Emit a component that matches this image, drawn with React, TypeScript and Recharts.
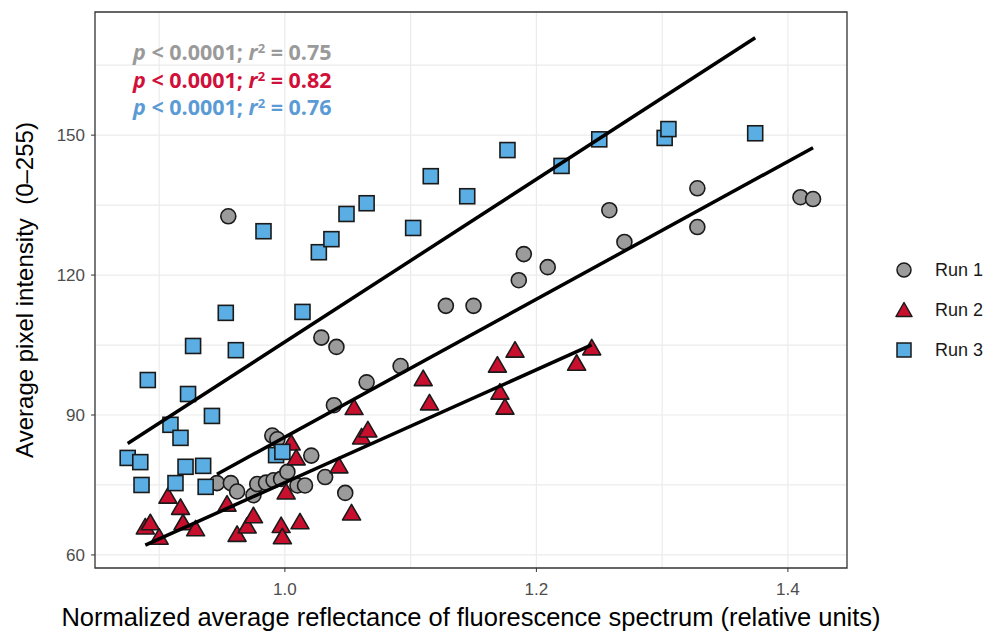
import React from 'react';
import { ScatterChart, Scatter, XAxis, YAxis, CartesianGrid, ReferenceArea } from 'recharts';

type Pt = { x: number; y: number };

// Run 1 (grey circles)
const run1: Pt[] = [
  { x: 0.946, y: 75.4 }, { x: 0.957, y: 75.4 }, { x: 0.962, y: 73.6 }, { x: 0.955, y: 132.6 },
  { x: 0.975, y: 72.8 }, { x: 0.978, y: 75.2 }, { x: 0.985, y: 75.5 }, { x: 0.990, y: 85.6 },
  { x: 0.994, y: 84.8 }, { x: 0.991, y: 76.0 }, { x: 0.997, y: 76.3 }, { x: 1.002, y: 77.8 },
  { x: 1.010, y: 74.9 }, { x: 1.016, y: 74.9 }, { x: 1.021, y: 81.3 }, { x: 1.029, y: 106.6 },
  { x: 1.032, y: 76.7 }, { x: 1.039, y: 92.1 }, { x: 1.041, y: 104.6 }, { x: 1.048, y: 73.3 },
  { x: 1.065, y: 97.0 }, { x: 1.092, y: 100.5 }, { x: 1.128, y: 113.4 }, { x: 1.150, y: 113.4 },
  { x: 1.186, y: 118.9 }, { x: 1.190, y: 124.5 }, { x: 1.209, y: 121.7 }, { x: 1.258, y: 133.9 },
  { x: 1.270, y: 127.1 }, { x: 1.328, y: 138.6 }, { x: 1.328, y: 130.3 }, { x: 1.410, y: 136.7 },
  { x: 1.420, y: 136.3 },
];

// Run 2 (red triangles)
const run2: Pt[] = [
  { x: 0.889, y: 66.0 }, { x: 0.893, y: 66.9 }, { x: 0.900, y: 63.8 }, { x: 0.907, y: 72.6 },
  { x: 0.917, y: 70.2 }, { x: 0.919, y: 66.9 }, { x: 0.929, y: 65.6 }, { x: 0.954, y: 70.9 },
  { x: 0.962, y: 64.4 }, { x: 0.970, y: 66.2 }, { x: 0.975, y: 68.4 }, { x: 0.997, y: 66.3 },
  { x: 0.998, y: 63.9 }, { x: 1.001, y: 73.5 }, { x: 1.005, y: 84.0 }, { x: 1.009, y: 80.8 },
  { x: 1.012, y: 67.1 }, { x: 1.043, y: 79.1 }, { x: 1.053, y: 69.0 }, { x: 1.055, y: 91.6 },
  { x: 1.061, y: 85.3 }, { x: 1.066, y: 86.8 }, { x: 1.110, y: 97.8 }, { x: 1.115, y: 92.6 },
  { x: 1.169, y: 100.7 }, { x: 1.171, y: 94.9 }, { x: 1.175, y: 91.7 }, { x: 1.183, y: 103.9 },
  { x: 1.232, y: 101.1 }, { x: 1.244, y: 104.4 },
];

// Run 3 (blue squares)
const run3: Pt[] = [
  { x: 0.875, y: 80.8 }, { x: 0.885, y: 79.9 }, { x: 0.891, y: 97.5 }, { x: 0.886, y: 75.0 },
  { x: 0.909, y: 87.9 }, { x: 0.917, y: 85.1 }, { x: 0.913, y: 75.4 }, { x: 0.921, y: 78.9 },
  { x: 0.923, y: 94.5 }, { x: 0.927, y: 104.8 }, { x: 0.935, y: 79.1 }, { x: 0.937, y: 74.6 },
  { x: 0.942, y: 89.8 }, { x: 0.953, y: 111.9 }, { x: 0.961, y: 103.9 }, { x: 0.983, y: 129.4 },
  { x: 0.993, y: 81.4 }, { x: 0.998, y: 82.1 }, { x: 1.014, y: 112.1 }, { x: 1.027, y: 124.9 },
  { x: 1.037, y: 127.7 }, { x: 1.049, y: 133.1 }, { x: 1.065, y: 135.4 }, { x: 1.102, y: 130.1 },
  { x: 1.116, y: 141.2 }, { x: 1.145, y: 136.9 }, { x: 1.177, y: 146.8 }, { x: 1.220, y: 143.4 },
  { x: 1.250, y: 149.1 }, { x: 1.302, y: 149.4 }, { x: 1.305, y: 151.3 }, { x: 1.374, y: 150.4 },
];

const xTicks = [1.0, 1.2, 1.4];
const yTicks = [60, 90, 120, 150];
const xGrid = [0.9, 1.0, 1.1, 1.2, 1.3, 1.4];
const yGrid = [60, 75, 90, 105, 120, 135, 150, 165];

const runNames = ['Run 1', 'Run 2', 'Run 3'];
const r2Values = ['0.75', '0.82', '0.76'];

const X_DOMAIN: [number, number] = [0.849, 1.447];
const Y_DOMAIN: [number, number] = [57.2, 176.4];

const GREY = '#9b9b9b';
const RED = '#c8102e';
const BLUE = '#5aaee3';
const statColors = ['#9a9a9a', '#d0103a', '#5b9bd5'];
const FONT = 'Liberation Sans, Arial, sans-serif';

// least-squares line spanning the x range of a run
const fitLine = (pts: Pt[]): Pt[] => {
  const n = pts.length;
  const mx = pts.reduce((s, p) => s + p.x, 0) / n;
  const my = pts.reduce((s, p) => s + p.y, 0) / n;
  let sxy = 0;
  let sxx = 0;
  pts.forEach((p) => {
    sxy += (p.x - mx) * (p.y - my);
    sxx += (p.x - mx) * (p.x - mx);
  });
  const b = sxy / sxx;
  const a = my - b * mx;
  const xs = pts.map((p) => p.x);
  const lo = Math.min(...xs);
  const hi = Math.max(...xs);
  return [{ x: lo, y: a + b * lo }, { x: hi, y: a + b * hi }];
};

const CircleMark = (p: any) => (
  <circle cx={p.cx} cy={p.cy} r={7.5} fill={GREY} stroke="#1a1a1a" strokeWidth={1.6} />
);
const TriangleMark = (p: any) => (
  <path
    d={`M${p.cx},${p.cy - 8.5} L${p.cx + 9},${p.cy + 7} L${p.cx - 9},${p.cy + 7} Z`}
    fill={RED}
    stroke="#1a1a1a"
    strokeWidth={1.6}
    strokeLinejoin="round"
  />
);
const SquareMark = (p: any) => (
  <rect x={p.cx - 7.5} y={p.cy - 7.5} width={15} height={15} fill={BLUE} stroke="#1a1a1a" strokeWidth={1.6} />
);
const NoMark = () => <g />;

const legendIcons = [
  <circle cx={9} cy={9} r={7} fill={GREY} stroke="#1a1a1a" strokeWidth={1.5} />,
  <path d="M9,1.5 L17,15.5 L1,15.5 Z" fill={RED} stroke="#1a1a1a" strokeWidth={1.5} strokeLinejoin="round" />,
  <rect x={2} y={2} width={14} height={14} fill={BLUE} stroke="#1a1a1a" strokeWidth={1.5} />,
];

const tickStyle = { fontSize: 17, fill: '#4d4d4d', fontFamily: FONT };

export default function App() {
  return (
    <div style={{ position: 'relative', width: 993, height: 623, background: '#fff' }}>
      <ScatterChart width={993} height={623} margin={{ top: 4, right: 154, bottom: 0, left: 0 }}>
        <CartesianGrid stroke="#ebebeb" strokeWidth={1.2} horizontalValues={yGrid} verticalValues={xGrid} />
        <XAxis
          type="number"
          dataKey="x"
          domain={X_DOMAIN}
          ticks={xTicks}
          allowDataOverflow
          tickFormatter={(v: number) => v.toFixed(1)}
          axisLine={false}
          tickLine={{ stroke: '#333' }}
          tickSize={4}
          tickMargin={11}
          tick={tickStyle}
          height={63}
          label={{
            value: 'Normalized average reflectance of fluorescence spectrum (relative units)',
            position: 'insideBottom',
            offset: 5,
            fontSize: 25.5,
            fill: '#000',
            fontFamily: FONT,
          }}
        />
        <YAxis
          type="number"
          dataKey="y"
          domain={Y_DOMAIN}
          ticks={yTicks}
          allowDataOverflow
          axisLine={false}
          tickLine={{ stroke: '#333' }}
          tickSize={4}
          tickMargin={6}
          tick={tickStyle}
          width={87}
          label={{
            value: 'Average pixel intensity\u00a0\u00a0(0\u2013255)',
            angle: -90,
            position: 'insideLeft',
            offset: 16,
            style: { textAnchor: 'middle' },
            fontSize: 24,
            fill: '#000',
            fontFamily: FONT,
          }}
        />
        <ReferenceArea
          x1={X_DOMAIN[0]}
          x2={X_DOMAIN[1]}
          y1={Y_DOMAIN[0]}
          y2={Y_DOMAIN[1]}
          fill="none"
          stroke="#333"
          strokeWidth={1.3}
          ifOverflow="extendDomain"
        />
        <Scatter name="Run 1" data={run1} shape={CircleMark} isAnimationActive={false} />
        <Scatter name="Run 2" data={run2} shape={TriangleMark} isAnimationActive={false} />
        <Scatter name="Run 3" data={run3} shape={SquareMark} isAnimationActive={false} />
        <Scatter data={fitLine(run3)} line={{ stroke: '#000', strokeWidth: 3.5 }} shape={NoMark} legendType="none" isAnimationActive={false} />
        <Scatter data={fitLine(run1)} line={{ stroke: '#000', strokeWidth: 3.5 }} shape={NoMark} legendType="none" isAnimationActive={false} />
        <Scatter data={fitLine(run2)} line={{ stroke: '#000', strokeWidth: 3.5 }} shape={NoMark} legendType="none" isAnimationActive={false} />
      </ScatterChart>

      {/* legend for the three runs */}
      <div style={{ position: 'absolute', left: 887, top: 242, fontFamily: FONT, fontSize: 18, color: '#1a1a1a' }}>
        {runNames.map((name, i) => (
          <div key={name} style={{ display: 'flex', alignItems: 'center', height: 40 }}>
            <svg width={18} height={18} style={{ marginRight: 22 }}>
              {legendIcons[i]}
            </svg>
            <span>{name}</span>
          </div>
        ))}
      </div>

      {/* fit statistics */}
      <div
        style={{
          position: 'absolute',
          left: 125,
          top: 30,
          fontFamily: '"Open Sans", sans-serif',
          fontWeight: 700,
          fontSize: 21.5,
          lineHeight: '27.5px',
          whiteSpace: 'nowrap',
        }}
      >
        {r2Values.map((r2, i) => (
          <div key={r2} style={{ color: statColors[i] }}>
            <i>p</i> &lt; 0.0001; <i>r</i>
            <sup style={{ fontSize: 13, verticalAlign: 'top', lineHeight: '20px' }}>2</sup> = {r2}
          </div>
        ))}
      </div>
    </div>
  );
}
